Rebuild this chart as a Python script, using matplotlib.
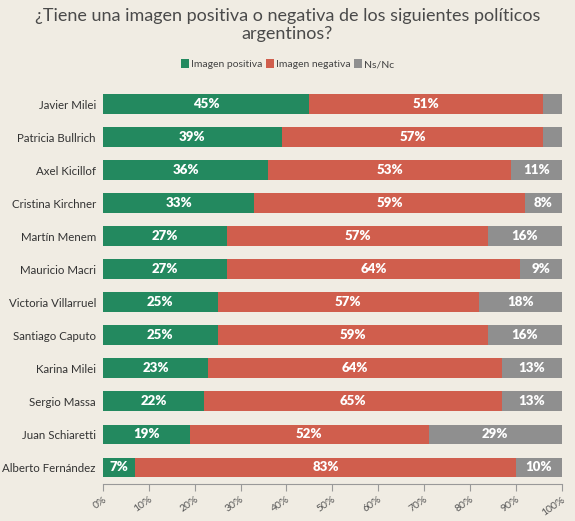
import matplotlib.pyplot as plt
import numpy as np

plt.rcParams['font.family'] = ['Lato', 'DejaVu Sans']

politicos = ['Javier Milei', 'Patricia Bullrich', 'Axel Kicillof', 'Cristina Kirchner',
             'Martín Menem', 'Mauricio Macri', 'Victoria Villarruel', 'Santiago Caputo',
             'Karina Milei', 'Sergio Massa', 'Juan Schiaretti', 'Alberto Fernández']
positiva = [45, 39, 36, 33, 27, 27, 25, 25, 23, 22, 19, 7]
negativa = [51, 57, 53, 59, 57, 64, 57, 59, 64, 65, 52, 83]
nsnc = [4, 4, 11, 8, 16, 9, 18, 16, 13, 13, 29, 10]

series = [('Imagen positiva', positiva, '#23895f'),
          ('Imagen negativa', negativa, '#d05e4d'),
          ('Ns/Nc', nsnc, '#8f8f8f')]

bg = '#f0ece3'
fig = plt.figure(figsize=(5.75, 5.21), dpi=100, facecolor=bg)
ax = fig.add_axes([0.179, 0.071, 0.798, 0.761], facecolor=bg)

y = np.arange(len(politicos))
left = np.zeros(len(politicos))
for nombre, vals, color in series:
    vals = np.array(vals)
    ax.barh(y, vals, left=left, height=0.6, color=color, label=nombre)
    for yi, l, v in zip(y, left, vals):
        if v >= 6:
            ax.text(l + v / 2, yi, f'{v}%', ha='center', va='center',
                    color='white', fontsize=9.5, fontweight='heavy')
    left += vals

ax.set_xlim(0, 100)
ax.set_ylim(len(politicos) - 0.5, -0.5)
ax.set_yticks(y)
ax.set_yticklabels(politicos, fontsize=8.3, color='#333333')
ax.tick_params(axis='y', length=0, pad=5)
ax.set_xticks(np.arange(0, 101, 10))
ax.set_xticklabels([f'{t}%' for t in range(0, 101, 10)], rotation=35,
                   ha='right', rotation_mode='anchor', fontsize=7.5, color='#555555')
ax.tick_params(axis='x', length=5, color='#999999', pad=3)
for s in ['top', 'right', 'left']:
    ax.spines[s].set_visible(False)
ax.spines['bottom'].set_color('#999999')

fig.text(0.5, 0.985, '¿Tiene una imagen positiva o negativa de los siguientes políticos\nargentinos?',
         ha='center', va='top', fontsize=13, color='#4a4a4a', linespacing=1.2)
fig.legend(loc='center', bbox_to_anchor=(0.5, 0.877), ncol=3, frameon=False,
           fontsize=7.5, handlelength=0.8, handleheight=0.9, handletextpad=0.2,
           columnspacing=0.3, labelcolor='#444444')

fig.savefig('out.png', dpi=100, facecolor=bg)
